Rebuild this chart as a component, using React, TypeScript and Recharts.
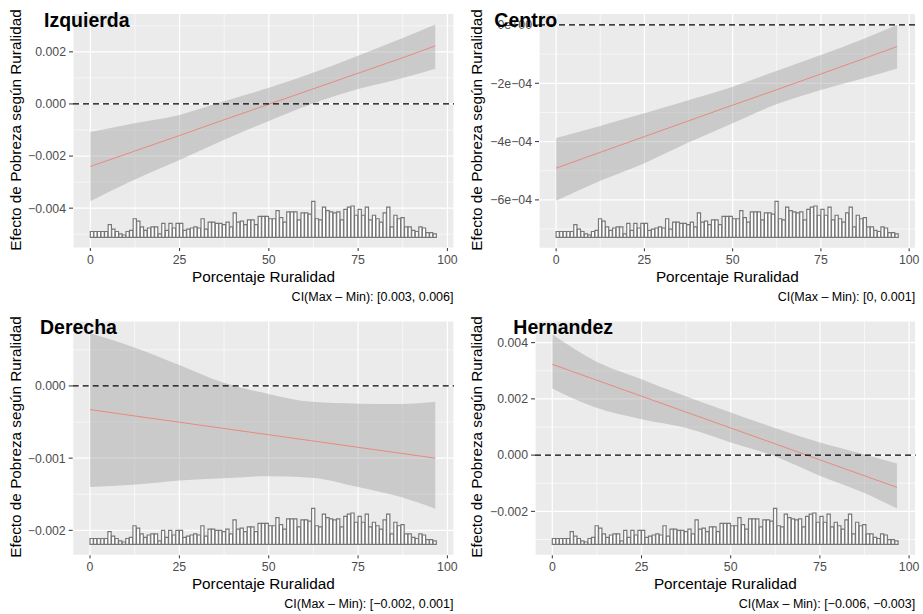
import React from 'react';
import { ComposedChart, Area, Line, Bar, XAxis, YAxis, CartesianGrid, ReferenceLine } from 'recharts';

// Porcentaje Ruralidad histogram (1-point bins from 0 to 97), same in every panel
const binCounts = [
  5, 5, 5, 5, 5, 11, 7, 5, 3, 2,
  5, 6, 16, 14, 9, 6, 8, 9, 9, 3,
  12, 6, 12, 8, 12, 12, 6, 7, 8, 9,
  8, 16, 7, 13, 13, 12, 12, 11, 13, 9,
  21, 13, 14, 11, 15, 15, 11, 18, 18, 18,
  16, 16, 23, 17, 13, 22, 22, 22, 15, 21,
  21, 20, 31, 16, 15, 26, 23, 22, 21, 22,
  15, 24, 26, 27, 19, 24, 19, 26, 15, 19,
  16, 13, 21, 26, 9, 19, 16, 17, 9, 9,
  6, 5, 9, 8, 4, 4, 3,
];
const bins = binCounts.map((count, i) => ({ x: i + 0.5, count }));

// points where the fitted effect and its interval were read
const ruralidad = [0, 12, 25, 37, 50, 62, 75, 87, 96.6];

const izqFit = [-0.0024, -0.00183, -0.00121, -0.00063, -0.00001, 0.00056, 0.00118, 0.00175, 0.00223];
const izqLo = [-0.00374, -0.00293, -0.00215, -0.0014, -0.00065, 0.0, 0.00057, 0.00098, 0.00135];
const izqHi = [-0.00108, -0.00075, -0.00042, 0.00008, 0.00062, 0.00118, 0.00185, 0.0025, 0.00305];

const cenFit = [-4.91e-4, -4.39e-4, -3.83e-4, -3.31e-4, -2.75e-4, -2.24e-4, -1.68e-4, -1.16e-4, -0.74e-4];
const cenLo = [-6.03e-4, -5.37e-4, -4.74e-4, -4.06e-4, -3.37e-4, -2.74e-4, -2.23e-4, -1.83e-4, -1.49e-4];
const cenHi = [-3.88e-4, -3.48e-4, -3.03e-4, -2.6e-4, -2.12e-4, -1.6e-4, -1.03e-4, -0.48e-4, 0];

const derFit = [-0.000328, -0.000412, -0.000502, -0.000586, -0.000676, -0.000759, -0.00085, -0.000933, -0.001];
const derLo = [-0.0014, -0.00137, -0.00131, -0.00128, -0.00125, -0.00127, -0.0014, -0.00154, -0.0017];
const derHi = [0.00073, 0.00054, 0.00029, 0.00005, -0.00011, -0.00022, -0.000245, -0.00025, -0.00022];

const herFit = [0.00323, 0.002686, 0.002097, 0.001554, 0.000965, 0.000421, -0.000168, -0.000712, -0.001147];
const herLo = [0.00237, 0.0017, 0.00128, 0.00098, 0.00045, -0.00002, -0.00073, -0.00132, -0.0019];
const herHi = [0.0043, 0.00335, 0.0027, 0.00211, 0.00152, 0.00098, 0.00045, 0.00004, -0.0003];

const xTicks = [0, 25, 50, 75, 100];
const xMinor = [12.5, 37.5, 62.5, 87.5];

const FONT = '"Liberation Sans", Arial, Helvetica, sans-serif';
const CELL_W = 462;
const CELL_H = 307;
const X_AXIS_H = 22;
const Y_AXIS_W = 60;
const X_DOMAIN: [number, number] = [-4.85, 101.85];
const HIST_BASE = 237.3;
const PX_PER_COUNT = 1.16;

const minus = (s: string) => s.replace(/-/g, '\u2212');
const fixed3 = (v: number) => minus(v.toFixed(3));
const sci = (v: number) => {
  if (v === 0) return '0e+00';
  const [m, e] = v.toExponential(0).split('e');
  const ex = Number(e);
  return minus(`${m}e${ex < 0 ? '-' : '+'}${String(Math.abs(ex)).padStart(2, '0')}`);
};

type Panel = {
  title: string;
  titleX: number;
  cellX: number;
  cellY: number;
  left: number;
  right: number;
  top: number;
  bottom: number;
  yDomain: [number, number];
  yTicks: number[];
  yMinor: number[];
  yFormat: (v: number) => string;
  fit: number[];
  lo: number[];
  hi: number[];
  caption: string;
};

const panels: Panel[] = [
  {
    title: 'Izquierda', titleX: 44, cellX: 0, cellY: 0,
    left: 73, right: 454, top: 13.3, bottom: 248,
    yDomain: [-0.00553, 0.00348], yTicks: [-0.004, -0.002, 0, 0.002], yMinor: [-0.005, -0.003, -0.001, 0.001, 0.003],
    yFormat: fixed3, fit: izqFit, lo: izqLo, hi: izqHi, caption: 'CI(Max \u2013 Min): [0.003, 0.006]',
  },
  {
    title: 'Centro', titleX: 34.3, cellX: 460, cellY: 0,
    left: 79, right: 455.7, top: 13.3, bottom: 248.3,
    yDomain: [-7.66e-4, 0.4e-4], yTicks: [-6e-4, -4e-4, -2e-4, 0], yMinor: [-7e-4, -5e-4, -3e-4, -1e-4],
    yFormat: sci, fit: cenFit, lo: cenLo, hi: cenHi, caption: 'CI(Max \u2013 Min): [0, 0.001]',
  },
  {
    title: 'Derecha', titleX: 40, cellX: 0, cellY: 307,
    left: 72.7, right: 454, top: 14, bottom: 248.3,
    yDomain: [-0.002346, 0.0009], yTicks: [-0.002, -0.001, 0], yMinor: [-0.0015, -0.0005, 0.0005],
    yFormat: fixed3, fit: derFit, lo: derLo, hi: derHi, caption: 'CI(Max \u2013 Min): [\u22120.002, 0.001]',
  },
  {
    title: 'Hernandez', titleX: 53.3, cellX: 460, cellY: 307,
    left: 75, right: 455.7, top: 14, bottom: 248.3,
    yDomain: [-0.003563, 0.00477], yTicks: [-0.002, 0, 0.002, 0.004], yMinor: [-0.003, -0.001, 0.001, 0.003],
    yFormat: fixed3, fit: herFit, lo: herLo, hi: herHi, caption: 'CI(Max \u2013 Min): [\u22120.006, \u22120.003]',
  },
];

function PanelChart({ p }: { p: Panel }) {
  const plotW = p.right - p.left;
  const barW = plotW / (X_DOMAIN[1] - X_DOMAIN[0]);
  const histDomain: [number, number] = [-(p.bottom - HIST_BASE) / PX_PER_COUNT, (HIST_BASE - p.top) / PX_PER_COUNT];
  const curve = ruralidad.map((x, i) => ({ x, fit: p.fit[i], band: [p.lo[i], p.hi[i]] }));
  const tickStyle = { fill: '#4D4D4D', fontSize: 12.3, fontFamily: FONT };

  return (
    <div style={{ position: 'absolute', left: p.cellX, top: p.cellY, width: CELL_W, height: CELL_H }}>
      <div style={{ position: 'absolute', left: 0, top: 0 }}>
        <ComposedChart
          width={CELL_W}
          height={CELL_H}
          data={curve}
          margin={{ top: p.top, right: CELL_W - p.right, bottom: CELL_H - p.bottom - X_AXIS_H, left: p.left - Y_AXIS_W }}
        >
          <CartesianGrid fill="#EBEBEB" stroke="#FFFFFF" strokeWidth={1.2} />
          <CartesianGrid stroke="#FFFFFF" strokeWidth={0.6} verticalValues={xMinor} horizontalValues={p.yMinor} />
          <XAxis
            type="number" dataKey="x" domain={X_DOMAIN} allowDataOverflow ticks={xTicks} interval={0}
            height={X_AXIS_H} axisLine={false} tickLine={{ stroke: '#333333' }} tickSize={3} tickMargin={4} tick={tickStyle}
          />
          <YAxis
            type="number" domain={p.yDomain} allowDataOverflow ticks={p.yTicks} interval={0} tickFormatter={p.yFormat}
            width={Y_AXIS_W} axisLine={false} tickLine={{ stroke: '#333333' }} tickSize={4} tickMargin={3} tick={tickStyle}
          />
          <Area dataKey="band" type="monotone" stroke="none" fill="#999999" fillOpacity={0.4} isAnimationActive={false} />
          <Line dataKey="fit" type="linear" stroke="#E9897F" strokeWidth={1} dot={false} isAnimationActive={false} />
          <ReferenceLine y={0} stroke="#000000" strokeWidth={1.2} strokeDasharray="6 4" />
        </ComposedChart>
      </div>
      <div style={{ position: 'absolute', left: 0, top: 0 }}>
        <ComposedChart
          width={CELL_W}
          height={CELL_H}
          data={bins}
          barCategoryGap={0}
          barGap={0}
          margin={{ top: p.top, right: CELL_W - p.right, bottom: CELL_H - p.bottom, left: p.left }}
        >
          <XAxis type="number" dataKey="x" domain={X_DOMAIN} allowDataOverflow hide />
          <YAxis type="number" domain={histDomain} allowDataOverflow hide />
          <Bar dataKey="count" fill="#FFFFFF" stroke="#777777" strokeWidth={1.2} barSize={barW} isAnimationActive={false} />
        </ComposedChart>
      </div>
    </div>
  );
}

export default function App() {
  return (
    <div style={{ position: 'absolute', left: 0, top: 0, width: 923, height: 614, background: '#FFFFFF', fontFamily: FONT }}>
      {panels.map((p) => (
        <PanelChart key={p.title} p={p} />
      ))}
      <svg width={923} height={614} style={{ position: 'absolute', left: 0, top: 0, pointerEvents: 'none' }} fontFamily={FONT}>
        {panels.map((p) => (
          <g key={p.title}>
            <text x={p.cellX + p.titleX} y={p.cellY + 27} fontSize={19.5} fontWeight="bold" fill="#000">{p.title}</text>
            <text
              transform={`translate(${p.cellX + (p.cellX ? 16.7 : 15)},${p.cellY + 130}) rotate(-90)`}
              textAnchor="middle" dominantBaseline="central" fontSize={15.3} fill="#000"
            >
              Efecto de Pobreza según Ruralidad
            </text>
            <text x={p.cellX + (p.left + p.right) / 2} y={p.cellY + 276.7} textAnchor="middle" dominantBaseline="central" fontSize={15.3} fill="#000">
              Porcentaje Ruralidad
            </text>
            <text x={p.cellX + p.right - 0.5} y={p.cellY + 297} textAnchor="end" dominantBaseline="central" fontSize={12.5} fill="#000">
              {p.caption}
            </text>
          </g>
        ))}
      </svg>
    </div>
  );
}
